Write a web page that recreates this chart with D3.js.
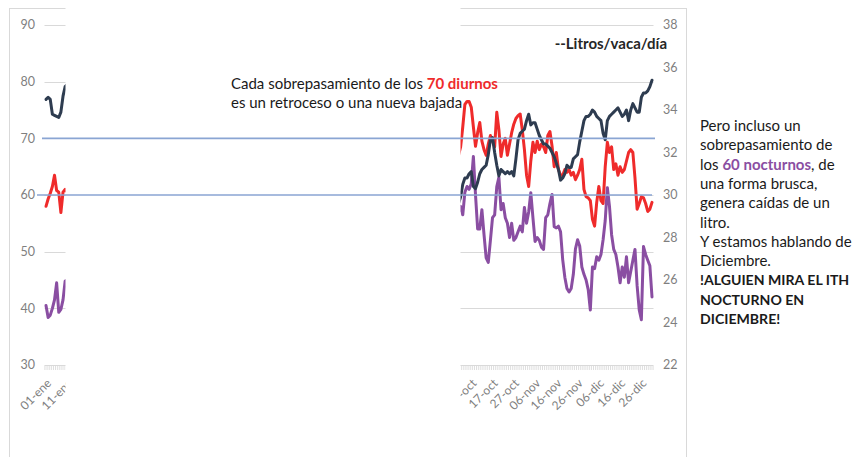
<!DOCTYPE html>
<html><head><meta charset="utf-8">
<script src="https://cdn.jsdelivr.net/npm/d3@7"></script>
<style>
html,body{margin:0;padding:0;background:#fff;}
svg{display:block;font-family:Lato,"Open Sans",sans-serif;}
</style></head><body>
<svg id="chart" width="861" height="457"></svg>
<script>
// ---- data ----
const categoryCount = 286;            // daily categories on the x axis
const tickIndex  = [0, 10, 200, 210, 220, 230, 240, 250, 260, 270, 280];
const tickLabels = ["01-ene","11-ene","07-oct","17-oct","27-oct","06-nov","16-nov","26-nov","06-dic","16-dic","26-dic"];
const leftTicks  = [30, 40, 50, 60, 70, 80, 90];
const rightTicks = [22, 24, 26, 28, 30, 32, 34, 36, 38];
const thresholds = [70, 60];

const segAStart = 0;    // 01-ene
const segBStart = 194;  // 01-oct

const litrosA   = [34.5, 34.6, 34.5, 33.8, 33.75, 33.7, 33.65, 33.9, 34.65, 35.1, 35.2];
const diurnoA   = [58, 59.3, 60.3, 61.5, 63.5, 60.8, 60.5, 56.9, 60.5, 61, 60.5];
const nocturnoA = [40.5, 38.4, 38.8, 40, 41.5, 44.5, 39.3, 39.8, 41.5, 44.8, 45];

const litrosB = [29.6,
  29.9,30.5,30.8,30.8,31.0,31.1,30.4,30.3,30.6,31.0,
  31.2,31.3,31.4,31.9,32.6,32.7,32.0,31.4,30.9,31.2,
  31.1,31.0,31.1,31.0,31.1,30.9,31.7,32.6,32.9,33.0,
  33.1,33.5,33.8,33.3,33.4,33.4,33.1,32.8,32.6,32.4,
  32.4,32.3,32.2,32.0,31.8,31.5,31.2,30.7,30.8,31.0,
  31.4,31.3,31.3,31.7,31.8,31.9,32.5,33.0,33.5,33.7,
  33.7,33.8,34.0,33.9,33.7,33.6,33.5,32.9,32.6,33.5,
  33.7,33.8,33.9,34.0,34.1,33.9,33.7,33.8,34.0,33.5,
  34.0,34.3,34.1,33.9,33.9,34.6,34.8,34.8,34.9,35.1,35.4];
const diurnoB = [67,
  68.5,72,76.0,76.5,76.5,75.5,72,68.6,71,72.8,
  69.5,68,67,69,70.5,69.5,68.5,74.6,71.5,66.8,
  69,70,67,69,71,72.5,73.5,74,74.3,71.5,
  68,63.5,61.5,66,69.3,67.5,69.5,68,69,68.5,
  67.5,70.5,71.2,68.6,65,67.5,64.5,63.5,63.5,64.5,
  64,64.5,63.5,64,62.7,63.5,64.5,66.3,61,59.7,
  59.5,59,55.7,54.5,58.7,61.5,59,58.5,65,69.3,
  67.5,68.5,64.5,65.5,63.5,65,64,64.5,66,67.5,
  68,67.5,63,57.5,58.5,59.7,59.5,58.5,57.1,57.5,58.7];
const nocturnoB = [57,
  58,56.5,60.5,61.5,61,62,66.8,60,54,54,
  57.4,53,48.9,48.1,52,56,56.5,61.5,63.1,57.4,
  58.5,56,55,52.5,55,52,52.5,53.5,54.5,53.5,
  57.8,55,57,60.4,56,51.8,52.5,52,50.8,50.4,
  56,56.5,58.5,60.1,54.4,54.2,54.5,53.5,48.6,45.5,
  43.5,42.9,43.5,46,50.5,52.1,51,47.3,46,45,
  43.3,39.7,47.3,47,49.1,48.5,49.5,52.1,55.5,61.3,
  58,53,50.4,49.5,47.3,44.5,47.3,45.5,49.1,44.5,
  46.5,48.5,50.4,44,39.7,38,50.9,49.5,48.5,47.5,42];

// ---- layout ----
const W = 861, H = 457;
const svg = d3.select("#chart");
const x  = d3.scaleLinear().domain([0, categoryCount - 1]).range([46, 652]);
const yL = d3.scaleLinear().domain([30, 90]).range([365, 25]);
const yR = d3.scaleLinear().domain([22, 38]).range([365, 25]);
const gridCol = "#d9d9d9", labCol = "#7f7f7f";
const colLitros = "#2e3c50", colDiurno = "#ef2b2b", colNocturno = "#8a4ea2", colRef = "#8aa5d3";

svg.append("rect").attr("width", W).attr("height", H).attr("fill", "#fff");
// chart frame
svg.append("rect").attr("x", 9.5).attr("y", 8.5).attr("width", 677).attr("height", 470)
  .attr("fill", "none").attr("stroke", gridCol).attr("stroke-width", 1);

// gridlines
svg.append("g").selectAll("line").data(leftTicks.filter(v => v > 30)).join("line")
  .attr("x1", x(0) - 1.5).attr("x2", x(categoryCount - 1) + 1.5)
  .attr("y1", d => Math.round(yL(d)) + 0.5).attr("y2", d => Math.round(yL(d)) + 0.5)
  .attr("stroke", gridCol).attr("stroke-width", 1);

// x axis: tick band
const xAxisG = svg.append("g");
xAxisG.selectAll("line.tk").data(d3.range(categoryCount + 1)).join("line").attr("class", "tk")
  .attr("x1", d => x(d - 0.5)).attr("x2", d => x(d - 0.5))
  .attr("y1", 365).attr("y2", 370).attr("stroke", "#d4d4d4").attr("stroke-width", 0.8);
xAxisG.append("line").attr("x1", x(-0.5)).attr("x2", x(categoryCount - 0.5))
  .attr("y1", 365.5).attr("y2", 365.5).attr("stroke", gridCol);
xAxisG.selectAll("text").data(tickIndex).join("text")
  .attr("transform", d => `translate(${x(d) + 3},${381}) rotate(-45)`)
  .attr("text-anchor", "end").attr("dy", "0.35em")
  .attr("font-size", 12).attr("fill", labCol)
  .text((d, i) => tickLabels[i]);

// left axis labels
svg.append("g").selectAll("text").data(leftTicks).join("text")
  .attr("x", 35).attr("y", d => yL(d)).attr("dy", "0.35em").attr("text-anchor", "end")
  .attr("font-size", 12.5).attr("fill", labCol).text(d => d);
// right axis labels
svg.append("g").selectAll("text").data(rightTicks).join("text")
  .attr("x", 663).attr("y", d => yR(d)).attr("dy", "0.35em").attr("text-anchor", "start")
  .attr("font-size", 12.5).attr("fill", labCol).text(d => d);

// series
const series = [
  {a: diurnoA, b: diurnoB, y: yL, color: colDiurno},
  {a: nocturnoA, b: nocturnoB, y: yL, color: colNocturno},
  {a: litrosA, b: litrosB, y: yR, color: colLitros}
];
const linesG = svg.append("g");
series.forEach(s => {
  [[s.a, segAStart], [s.b, segBStart]].forEach(([vals, start]) => {
    const line = d3.line().x((d, i) => x(start + i)).y(d => s.y(d)).curve(d3.curveLinear);
    linesG.append("path").datum(vals).attr("d", line)
      .attr("fill", "none").attr("stroke", s.color).attr("stroke-width", 3)
      .attr("stroke-linejoin", "round").attr("stroke-linecap", "round");
  });
});

// white cover panel over the middle of the chart
svg.append("rect").attr("x", 65.5).attr("y", 0).attr("width", 395).attr("height", H).attr("fill", "#fff");

// reference lines (70 / 60)
svg.append("g").selectAll("line").data(thresholds).join("line")
  .attr("x1", (d, i) => i === 0 ? x(0) - 4 : x(0) - 9)
  .attr("x2", (d, i) => i === 0 ? x(categoryCount - 1) + 3 : x(categoryCount - 1))
  .attr("y1", d => yL(d)).attr("y2", d => yL(d))
  .attr("stroke", colRef).attr("stroke-width", 1.6);

// legend label
svg.append("text").attr("x", 667).attr("y", 49).attr("text-anchor", "end")
  .attr("font-size", 15).attr("font-weight", "bold").attr("fill", "#262626")
  .text("--Litros/vaca/día");

// annotation in middle
const t1 = svg.append("text").attr("x", 231).attr("y", 89).attr("font-size", 15).attr("fill", "#1a1a1a");
t1.append("tspan").text("Cada sobrepasamiento de los ");
t1.append("tspan").attr("font-weight", "bold").attr("fill", colDiurno).text("70 diurnos");
svg.append("text").attr("x", 231).attr("y", 108).attr("font-size", 15).attr("fill", "#1a1a1a")
  .text("es un retroceso o una nueva bajada");

// right annotation
const rightLines = [
  [{t: "Pero incluso un"}],
  [{t: "sobrepasamiento de"}],
  [{t: "los "}, {t: "60 nocturnos", b: true, c: colNocturno}, {t: ", de"}],
  [{t: "una forma brusca,"}],
  [{t: "genera caídas de un"}],
  [{t: "litro."}],
  [{t: "Y estamos hablando de"}],
  [{t: "Diciembre."}],
  [{t: "!ALGUIEN MIRA EL ITH", b: true, s: 14.1}],
  [{t: "NOCTURNO EN", b: true, s: 14.1}],
  [{t: "DICIEMBRE!", b: true, s: 14.1}]
];
const rg = svg.append("g");
rightLines.forEach((parts, i) => {
  const t = rg.append("text").attr("x", 700).attr("y", 131 + i * 19.3)
    .attr("font-size", 15).attr("fill", "#1a1a1a");
  parts.forEach(p => {
    const ts = t.append("tspan").text(p.t);
    if (p.b) ts.attr("font-weight", "bold");
    if (p.c) ts.attr("fill", p.c);
    if (p.s) ts.attr("font-size", p.s);
  });
});
</script>
</body></html>
